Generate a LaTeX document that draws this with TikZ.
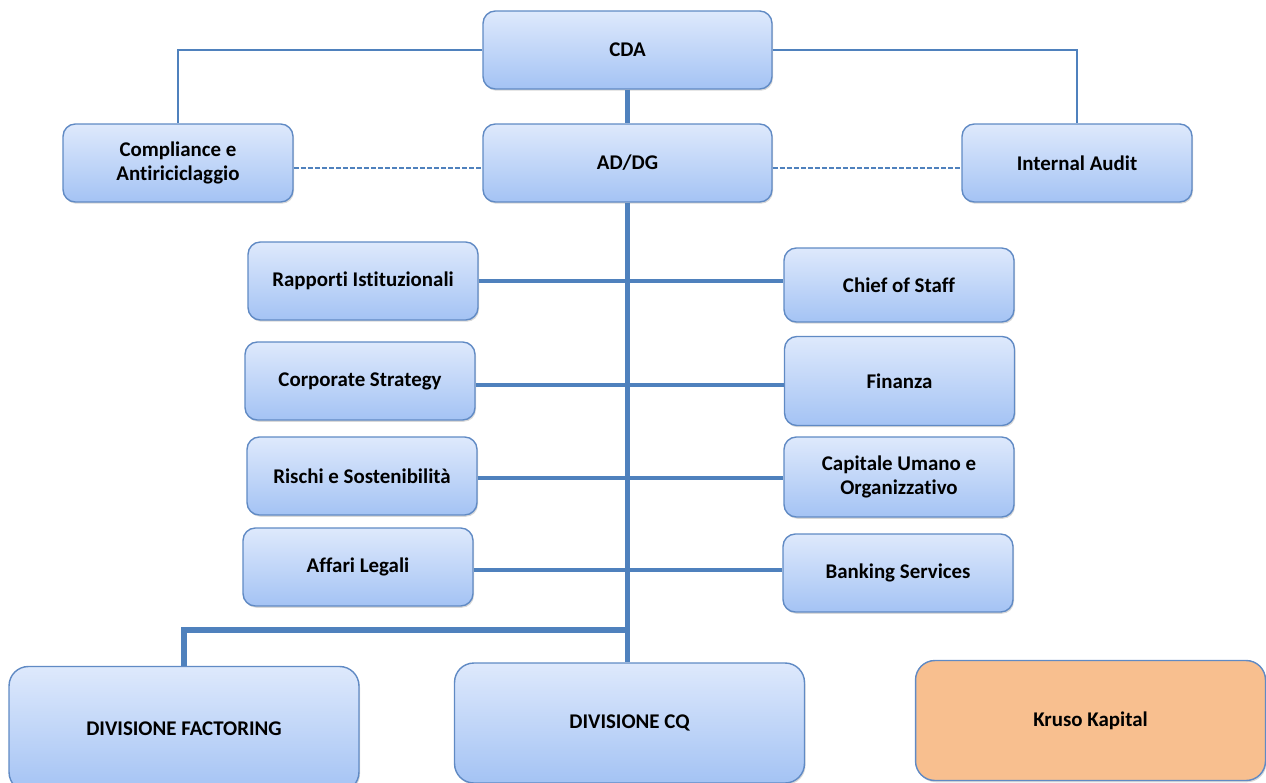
\documentclass[tikz,border=0pt]{standalone}
\usepackage{fontspec}
\setmainfont[Ligatures=NoCommon]{Carlito}
\usetikzlibrary{shadows,calc}

\definecolor{orgline}{RGB}{79,129,189}
\definecolor{orgborder}{RGB}{96,138,196}
\definecolor{boxtop}{RGB}{222,233,252}
\definecolor{boxbottom}{RGB}{164,195,244}
\definecolor{kruso}{RGB}{248,191,143}

\begin{document}
\begin{tikzpicture}[
  x=0.02cm,y=-0.02cm,
  unit/.style={draw=orgborder,line width=0.8pt,rounded corners=7pt,top color=boxtop,bottom color=boxbottom,
    font=\bfseries\fontsize{11.9}{14}\selectfont,align=center,inner sep=2pt,
    drop shadow={opacity=0.3,shadow xshift=0.6pt,shadow yshift=-1pt}},
  top/.style={unit,minimum width=5.78cm,minimum height=1.56cm},
  side/.style={unit,minimum width=4.6cm,minimum height=1.56cm},
  staff/.style={unit,minimum width=4.6cm,minimum height=1.56cm},
  division/.style={unit,rounded corners=11pt,minimum width=7cm,minimum height=2.4cm},
  trunk/.style={orgline,line width=3.2pt},
  branch/.style={orgline,line width=2.2pt},
  link/.style={orgline,line width=1.2pt},
  staffline/.style={orgline,line width=1pt,dash pattern=on 2.8pt off 1.2pt}]

  \clip (0,0) rectangle (1266,783);

  % vertici
  \node [top] (cda) at (627.5,50) {CDA};
  \node [top] (addg) at (627.5,163) {AD/DG};
  \node [side] (compliance) at (178,163) {Compliance e\\Antiriciclaggio};
  \node [side] (audit) at (1077,163) {Internal Audit};

  % funzioni di staff
  \node [staff] (rapporti) at (363,281) {Rapporti Istituzionali};
  \node [staff] (strategy) at (360,381) {Corporate Strategy};
  \node [staff] (rischi) at (362,476) {Rischi e Sostenibilità};
  \node [staff] (legali) at (358,567) {Affari Legali};
  \node [staff,minimum height=1.48cm] (chief) at (899,285) {Chief of Staff};
  \node [staff,minimum height=1.78cm] (finanza) at (899.5,381) {Finanza};
  \node [staff,minimum height=1.6cm] (capitale) at (899,477) {Capitale Umano e\\Organizzativo};
  \node [staff] (banking) at (898,573) {Banking Services};

  % divisioni
  \node [division,minimum height=2.5cm] (factoring) at (184,729) {DIVISIONE FACTORING};
  \node [division] (cq) at (629.5,723) {DIVISIONE CQ};
  \node [division,top color=kruso,bottom color=kruso] (kruso) at (1090.5,720.5) {Kruso Kapital};

  % collegamenti
  \draw [link] (cda.west) -| (compliance.north);
  \draw [link] (cda.east) -| (audit.north);
  \draw [staffline] ($(compliance.east)+(0,5)$) -- ($(addg.west |- compliance.east)+(0,5)$);
  \draw [staffline] ($(addg.east |- audit.west)+(0,5)$) -- ($(audit.west)+(0,5)$);
  \draw [trunk] (cda.south) -- (addg.north);
  \draw [trunk] (addg.south) -- (addg.south |- cq.north);

  \draw [branch] (rapporti.east) -- (rapporti.east -| chief.west);
  \draw [branch] ($(strategy.east)+(0,4)$) -- ($(strategy.east -| finanza.west)+(0,4)$);
  \draw [branch] ($(rischi.east)+(0,2)$) -- ($(rischi.east -| capitale.west)+(0,2)$);
  \draw [branch] ($(legali.east)+(0,3)$) -- ($(legali.east -| banking.west)+(0,3)$);

  \coordinate (fork) at (629.5,630);
  \draw [trunk] (fork) -| (factoring.north);

\end{tikzpicture}
\end{document}
